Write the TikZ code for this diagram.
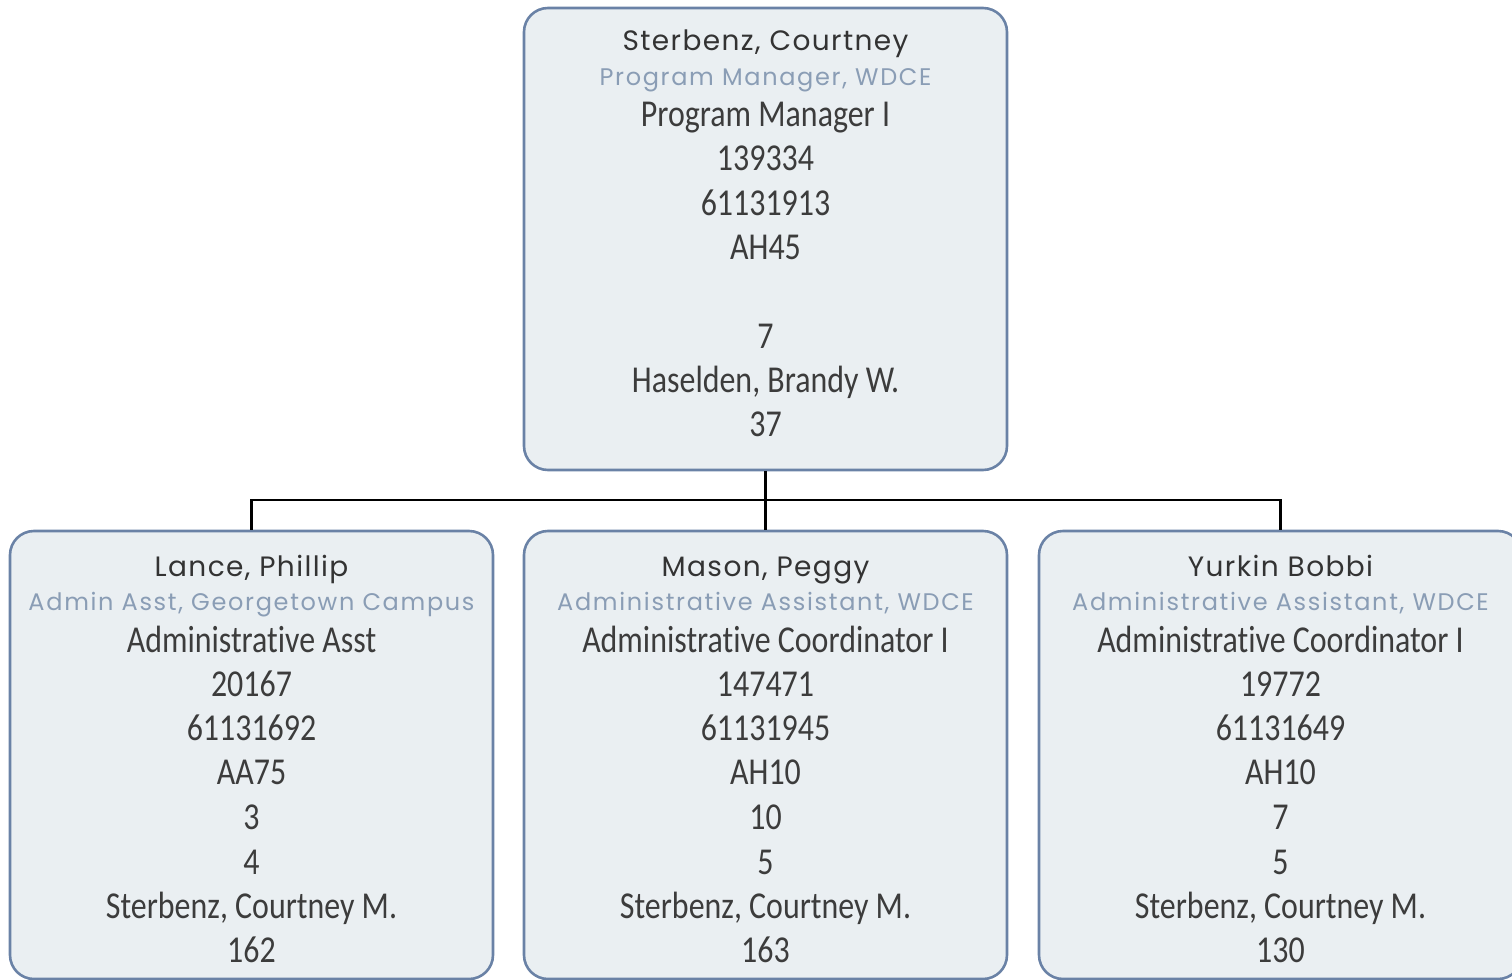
\documentclass[tikz,border=0pt]{standalone}
\usepackage{fontspec}
\setmainfont{Carlito}
\newfontfamily\namefont[LetterSpace=5]{Poppins}
\newfontfamily\titlefont[LetterSpace=7]{Poppins}
\newfontfamily\bodyfont[FakeStretch=0.84,Ligatures=NoCommon]{Carlito}
\definecolor{boxfill}{HTML}{EAEFF2}
\definecolor{boxline}{HTML}{6A82A6}
\definecolor{titlecol}{HTML}{8A9DB5}
\definecolor{namecol}{HTML}{333333}
\definecolor{bodycol}{HTML}{3C3C3C}
\tikzset{
  card/.style={draw=boxline, fill=boxfill, line width=1.3pt, rounded corners=12pt,
    minimum width=241.5pt, inner sep=0pt},
  topcard/.style={card, minimum height=231pt},
  subcard/.style={card, minimum height=224pt},
  nameline/.style={text=namecol, font=\namefont\fontsize{14}{16}\selectfont, inner sep=0pt, anchor=base},
  titleline/.style={text=titlecol, font=\titlefont\fontsize{12}{14}\selectfont, inner sep=0pt, anchor=base},
  bodyline/.style={text=bodycol, font=\bodyfont\fontsize{19}{22}\selectfont, inner sep=0pt, anchor=base},
  link/.style={draw=black, line width=1.2pt}
}
\begin{document}
\begin{tikzpicture}[x=0.5pt,y=-0.5pt]
\useasboundingbox (0,0) rectangle (1512,980);
% boxes
\node[topcard] (top) at (765.5,239) {};
\node[subcard] (b1) at (251.5,755) {};
\node[subcard] (b2) at (765.5,755) {};
\node[subcard] (b3) at (1280.5,755) {};
% connectors
\coordinate (bus) at (765.5,500);
\draw[link] (top.south) -- (bus);
\draw[link] (b1.north) |- (bus) -| (b3.north);
\draw[link] (bus) -- (b2.north);
% top text
\node[nameline] (t0) at (765.5,50) {Sterbenz, Courtney};
\node[titleline] (t1) at (765.5,85) {Program Manager, WDCE};
\node[bodyline] (t2) at (765.5,126) {Program Manager I};
\node[bodyline] (t3) at (765.5,170) {139334};
\node[bodyline] (t4) at (765.5,215) {61131913};
\node[bodyline] (t5) at (765.5,259) {AH45};
\node[bodyline] (t6) at (765.5,348) {7};
\node[bodyline] (t7) at (765.5,392) {Haselden, Brandy W.};
\node[bodyline] (t8) at (765.5,436) {37};
% box 1
\node[nameline] (a0) at (251.5,576) {Lance, Phillip};
\node[titleline] (a1) at (251.5,610) {Admin Asst, Georgetown Campus};
\node[bodyline] (a2) at (251.5,652) {Administrative Asst};
\node[bodyline] (a3) at (251.5,696) {20167};
\node[bodyline] (a4) at (251.5,740) {61131692};
\node[bodyline] (a5) at (251.5,784) {AA75};
\node[bodyline] (a6) at (251.5,829) {3};
\node[bodyline] (a7) at (251.5,874) {4};
\node[bodyline] (a8) at (251.5,918) {Sterbenz, Courtney M.};
\node[bodyline] (a9) at (251.5,962) {162};
% box 2
\node[nameline] (m0) at (765.5,576) {Mason, Peggy};
\node[titleline] (m1) at (765.5,610) {Administrative Assistant, WDCE};
\node[bodyline] (m2) at (765.5,652) {Administrative Coordinator I};
\node[bodyline] (m3) at (765.5,696) {147471};
\node[bodyline] (m4) at (765.5,740) {61131945};
\node[bodyline] (m5) at (765.5,784) {AH10};
\node[bodyline] (m6) at (765.5,829) {10};
\node[bodyline] (m7) at (765.5,874) {5};
\node[bodyline] (m8) at (765.5,918) {Sterbenz, Courtney M.};
\node[bodyline] (m9) at (765.5,962) {163};
% box 3
\node[nameline] (y0) at (1280.5,576) {Yurkin Bobbi};
\node[titleline] (y1) at (1280.5,610) {Administrative Assistant, WDCE};
\node[bodyline] (y2) at (1280.5,652) {Administrative Coordinator I};
\node[bodyline] (y3) at (1280.5,696) {19772};
\node[bodyline] (y4) at (1280.5,740) {61131649};
\node[bodyline] (y5) at (1280.5,784) {AH10};
\node[bodyline] (y6) at (1280.5,829) {7};
\node[bodyline] (y7) at (1280.5,874) {5};
\node[bodyline] (y8) at (1280.5,918) {Sterbenz, Courtney M.};
\node[bodyline] (y9) at (1280.5,962) {130};
\end{tikzpicture}
\end{document}
